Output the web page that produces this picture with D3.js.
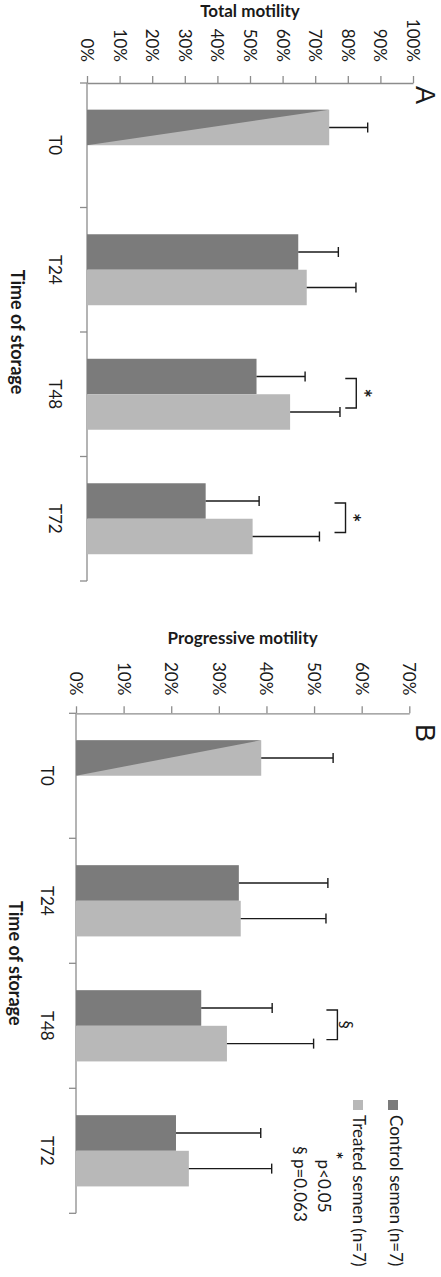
<!DOCTYPE html>
<html>
<head>
<meta charset="utf-8">
<script src="https://cdn.jsdelivr.net/npm/d3@7/dist/d3.min.js"></script>
<style>
  html, body { margin: 0; padding: 0; background: #fff; }
  svg { display: block; }
  text { font-family: Lato, "Open Sans", sans-serif; fill: #1a1a1a; }
</style>
</head>
<body>
<svg id="chart" width="441" height="1277"></svg>
<script>
// Storage times (categories) shared by both panels
const categories = ["T0", "T24", "T48", "T72"];
const seriesNames = ["Control semen (n=7)", "Treated semen (n=7)"];

// Panel A: total motility (%), mean and SD; T0 is the common fresh sample
const totalControl   = [74.3, 64.8, 52.0, 36.4];
const totalControlSd = [11.8, 12.3, 14.9, 16.4];
const totalTreated   = [null, 67.4, 62.3, 50.8];
const totalTreatedSd = [null, 15.1, 15.3, 20.5];
const totalTicks     = [0, 10, 20, 30, 40, 50, 60, 70, 80, 90, 100];

// Panel B: progressive motility (%), mean and SD
const progControl   = [38.9, 34.2, 26.3, 21.0];
const progControlSd = [15.1, 18.7, 14.9, 17.8];
const progTreated   = [null, 34.6, 31.7, 23.7];
const progTreatedSd = [null, 17.9, 18.2, 17.4];
const progTicks     = [0, 10, 20, 30, 40, 50, 60, 70];

// Significance markers between control and treated bars
const totalSig = [{ cat: "T48", mark: "*", gap: 5 }, { cat: "T72", mark: "*", gap: 8 }];
const progSig  = [{ cat: "T48", mark: "§", gap: 5 }];

const DARK = "#7b7b7b", LIGHT = "#b8b8b8", AXIS = "#8c8c8c", INK = "#1a1a1a";

const svg = d3.select("#chart");
svg.append("rect").attr("width", 441).attr("height", 1277).attr("fill", "#fff");

function drawPanel(p) {
  const g = svg.append("g");
  const x = d3.scaleLinear().domain([0, d3.max(p.ticks)]).range(p.xRange);
  const y = d3.scaleBand().domain(categories).range(p.yRange);
  const bw = y.bandwidth();
  const sub = d3.scaleBand().domain(["control", "treated"]).range([bw * 0.215, bw * 0.785]);
  const h = sub.bandwidth();
  const y0 = p.yRange[0];

  // value axis (runs across the top)
  const ax = g.append("g").attr("transform", `translate(0,${y0})`)
    .call(d3.axisTop(x).tickValues(p.ticks).tickSize(7).tickSizeOuter(0).tickFormat(d => d + "%"));
  ax.select(".domain").attr("stroke", AXIS).attr("stroke-width", 1.3);
  ax.selectAll(".tick line").attr("stroke", AXIS).attr("stroke-width", 1.3);
  ax.selectAll(".tick text")
    .attr("x", 0).attr("y", 0).attr("dy", null)
    .attr("transform", `translate(0,${-p.tickGap}) rotate(90)`)
    .attr("text-anchor", "end").attr("dominant-baseline", "central")
    .attr("font-size", 17).attr("fill", INK).style("font-family", "Lato, sans-serif");

  // category axis (runs down the left side)
  const cx = p.xRange[0];
  g.append("line").attr("x1", cx).attr("x2", cx).attr("y1", y0).attr("y2", p.yRange[1])
    .attr("stroke", AXIS).attr("stroke-width", 1.3);
  const bounds = categories.map(c => y(c)).concat([p.yRange[1]]);
  g.selectAll(".ctick").data(bounds).join("line")
    .attr("x1", cx - 7).attr("x2", cx).attr("y1", d => d).attr("y2", d => d)
    .attr("stroke", AXIS).attr("stroke-width", 1.3);
  g.selectAll(".clabel").data(categories).join("text")
    .attr("transform", c => `translate(${cx - p.catGap},${y(c) + bw / 2}) rotate(90)`)
    .attr("text-anchor", "middle").attr("dominant-baseline", "central")
    .attr("font-size", 17).text(c => c);

  // bars
  categories.forEach((c, i) => {
    const yc = y(c) + sub("control");
    const yt = y(c) + sub("treated");
    const x0 = x(0);
    if (p.treated[i] == null) {
      // common starting sample: split fill shared by both groups
      const xe = x(p.control[i]);
      g.append("path").attr("d", `M${x0},${yc}L${xe},${yc}L${xe},${yc + h}L${x0},${yc + h}Z`).attr("fill", LIGHT);
      g.append("path").attr("d", `M${x0},${yc}L${xe},${yc}L${x0},${yc + h}Z`).attr("fill", DARK);
    } else {
      g.append("rect").attr("x", x0).attr("y", yc).attr("width", x(p.control[i]) - x0).attr("height", h).attr("fill", DARK);
      g.append("rect").attr("x", x0).attr("y", yt).attr("width", x(p.treated[i]) - x0).attr("height", h).attr("fill", LIGHT);
    }
    const errs = [[yc, p.control[i], p.controlSd[i]]];
    if (p.treated[i] != null) errs.push([yt, p.treated[i], p.treatedSd[i]]);
    errs.forEach(([yy, v, sd]) => {
      const my = yy + h / 2;
      g.append("line").attr("x1", x(v)).attr("x2", x(v + sd)).attr("y1", my).attr("y2", my)
        .attr("stroke", INK).attr("stroke-width", 1.4);
      g.append("line").attr("x1", x(v + sd)).attr("x2", x(v + sd)).attr("y1", my - 5).attr("y2", my + 5)
        .attr("stroke", INK).attr("stroke-width", 1.4);
    });
  });

  // significance brackets
  p.sig.forEach(s => {
    const i = categories.indexOf(s.cat);
    const top = Math.max(p.control[i] + p.controlSd[i], p.treated[i] + p.treatedSd[i]);
    const bx = x(top + s.gap);
    const y1 = y(s.cat) + sub("control") + h / 2 + 2;
    const y2 = y(s.cat) + sub("treated") + h / 2 - 4;
    g.append("path").attr("d", `M${bx - 11},${y1}H${bx}V${y2}H${bx - 11}`)
      .attr("fill", "none").attr("stroke", INK).attr("stroke-width", 1.4);
    const star = s.mark === "*";
    g.append("text")
      .attr("transform", `translate(${bx + (star ? p.markGap - 4 : p.markGap)},${(y1 + y2) / 2}) rotate(90)`)
      .attr("text-anchor", "middle").attr("dominant-baseline", "central")
      .attr("font-size", star ? 22 : 17).attr("font-weight", star ? 700 : 400).text(s.mark);
  });

  // titles
  g.append("text").attr("x", (p.xRange[0] + p.xRange[1]) / 2).attr("y", p.titleY)
    .attr("text-anchor", "middle").attr("font-size", 17).attr("font-weight", 700).text(p.title);
  g.append("text")
    .attr("transform", `translate(${p.catTitleX},${(p.yRange[0] + p.yRange[1]) / 2}) rotate(90)`)
    .attr("text-anchor", "middle").attr("dominant-baseline", "central")
    .attr("font-size", 18).attr("font-weight", 700).text("Time of storage");
  g.append("text")
    .attr("transform", `translate(416,${p.letterY}) rotate(90)`)
    .attr("text-anchor", "middle").attr("font-size", 27).attr("fill", "#000")
    .style("font-family", "'Liberation Sans', Arial, sans-serif").text(p.letter);
}

drawPanel({
  control: totalControl, controlSd: totalControlSd, treated: totalTreated, treatedSd: totalTreatedSd,
  ticks: totalTicks, xRange: [87, 413], yRange: [83, 581], tickGap: 21, catGap: 32,
  sig: totalSig, markGap: 11, title: "Total motility", titleY: 17, catTitleX: 18,
  letter: "A", letterY: 95
});

drawPanel({
  control: progControl, controlSd: progControlSd, treated: progTreated, treatedSd: progTreatedSd,
  ticks: progTicks, xRange: [76, 409.3], yRange: [713.3, 1213.3], tickGap: 18, catGap: 29,
  sig: progSig, markGap: 9, title: "Progressive motility", titleY: 644, catTitleX: 16,
  letter: "B", letterY: 733
});

// legend
const legend = svg.append("g");
const legendItems = [
  { name: seriesNames[0], color: DARK, x: 388, tx: 396 },
  { name: seriesNames[1], color: LIGHT, x: 353, tx: 359.5 }
];
legendItems.forEach(d => {
  legend.append("rect").attr("x", d.x).attr("y", 1100).attr("width", 10).attr("height", 10).attr("fill", d.color);
  legend.append("text").attr("transform", `translate(${d.tx},1115) rotate(90)`)
    .attr("dominant-baseline", "central").attr("font-size", 17).text(d.name);
});
const pnote = legend.append("text").attr("transform", "translate(325,1182) rotate(90)")
  .attr("text-anchor", "middle").attr("dominant-baseline", "central").attr("font-size", 17);
pnote.append("tspan").attr("baseline-shift", "super").attr("font-size", 19).attr("font-weight", 700).text("*");
pnote.append("tspan").text("p<0.05");
legend.append("text").attr("transform", "translate(300,1184) rotate(90)")
  .attr("text-anchor", "middle").attr("dominant-baseline", "central").attr("font-size", 17)
  .text("§ p=0.063");
</script>
</body>
</html>
